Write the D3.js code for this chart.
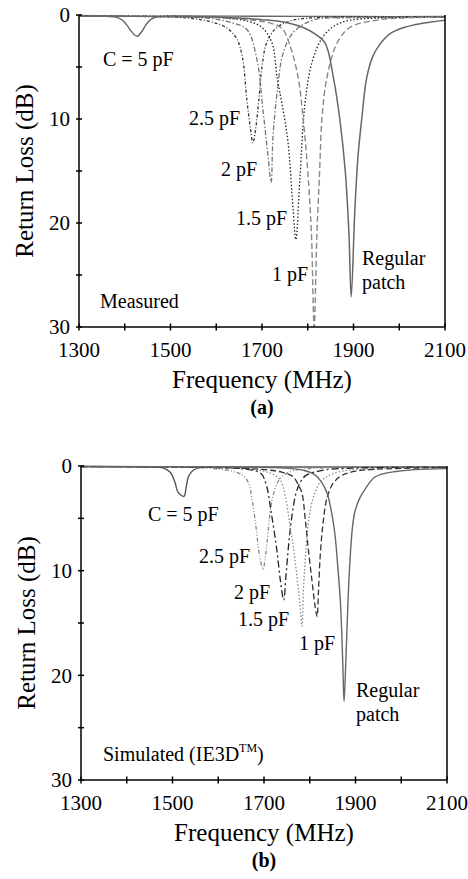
<!DOCTYPE html>
<html><head><meta charset="utf-8">
<script src="https://cdn.jsdelivr.net/npm/d3@7"></script>
<style>
html,body{margin:0;padding:0;background:#fff;}
svg{display:block;}
text{font-family:"Liberation Serif","Times New Roman",Tinos,"DejaVu Serif",serif;}
</style></head>
<body>
<svg id="chart" width="468" height="879"></svg>
<script>
// ---------- data ----------
const freqTickLabels = [1300, 1500, 1700, 1900, 2100];
const freqMinorTicks = [1300,1400,1500,1600,1700,1800,1900,2000,2100];
const rlTickLabels = [0, 10, 20, 30];
const rlMinorTicks = [0,5,10,15,20,25,30];

// Measured (a): [MHz, dB]
const meas5pF = [[1300,0.05],[1350,0.1],[1380,0.2],[1395,0.5],[1405,1.0],[1415,1.6],[1427,2.05],[1437,1.6],[1447,0.9],[1458,0.4],[1475,0.15],[1500,0.1],[1700,0.12],[1900,0.15],[2100,0.15]];
const meas2p5pF = [[1300,0.1],[1500,0.2],[1560,0.4],[1600,0.8],[1625,1.3],[1645,2.3],[1657,4],[1667,8.2],[1675,11],[1680,12.3],[1686,11],[1693,8.2],[1700,5],[1710,2.7],[1730,1.3],[1760,0.6],[1800,0.3],[2100,0.2]];
const meas2pF = [[1300,0.1],[1500,0.15],[1580,0.3],[1630,0.7],[1667,1.4],[1689,4.3],[1702,9.1],[1713,13.5],[1720,16.1],[1724,11.7],[1733,7.5],[1746,3.7],[1768,1.7],[1811,0.5],[1900,0.25],[2100,0.2]];
const meas1p5pF = [[1300,0.1],[1550,0.15],[1620,0.3],[1670,0.6],[1700,1.2],[1722,2.7],[1733,6],[1746,9.1],[1757,12.3],[1768,18.7],[1774,21.6],[1783,15.6],[1794,8.5],[1809,4.6],[1833,2.1],[1860,1.0],[1892,0.5],[1950,0.3],[2100,0.2]];
const meas1pF = [[1300,0.1],[1500,0.15],[1600,0.25],[1680,0.5],[1720,0.8],[1744,1.3],[1761,2.9],[1779,6],[1790,10],[1800,15],[1808,21],[1814,30],[1820,21],[1826,15],[1831,10],[1842,6],[1864,2.7],[1892,1.2],[1950,0.5],[2000,0.3],[2100,0.2]];
const measRegular = [[1300,0.1],[1500,0.15],[1600,0.2],[1650,0.3],[1700,0.45],[1750,0.7],[1790,1.2],[1815,1.8],[1838,2.7],[1856,6],[1870,10],[1882,15],[1890,21],[1895,27.1],[1903,18.7],[1910,13.5],[1918,10],[1929,6],[1942,4],[1958,2.8],[1980,1.8],[2010,1.2],[2050,0.8],[2100,0.5]];

// Simulated (b): [MHz, dB]
const sim5pF = [[1300,0.05],[1450,0.1],[1480,0.2],[1495,0.6],[1505,1.5],[1512,2.5],[1525,2.9],[1530,2.0],[1535,1.0],[1545,0.4],[1560,0.15],[1600,0.1],[1800,0.1],[2100,0.1]];
const sim2p5pF = [[1300,0.05],[1550,0.15],[1620,0.4],[1650,0.8],[1665,1.5],[1675,3.5],[1683,6],[1690,8.5],[1698,9.9],[1702,9],[1707,7.2],[1714,4.2],[1722,2.5],[1735,1.2],[1760,0.5],[1800,0.25],[2100,0.1]];
const sim2pF = [[1300,0.05],[1600,0.15],[1660,0.3],[1693,0.7],[1705,1.8],[1716,4.5],[1728,8],[1736,11],[1743,12.8],[1748,10.5],[1755,7],[1762,4.5],[1770,2.6],[1780,1.5],[1792,0.9],[1830,0.4],[1900,0.2],[2100,0.1]];
const sim1p5pF = [[1300,0.05],[1600,0.15],[1680,0.35],[1715,0.7],[1735,1.3],[1747,3],[1757,5.8],[1765,8],[1772,10.6],[1778,13],[1783,15.3],[1786,12],[1790,9],[1796,5.8],[1803,3.8],[1811,2.6],[1822,1.6],[1838,1.0],[1870,0.5],[1950,0.25],[2100,0.1]];
const sim1pF = [[1300,0.05],[1600,0.15],[1700,0.35],[1740,0.6],[1763,1.0],[1775,1.8],[1783,2.6],[1790,5],[1797,8],[1805,11],[1812,13.5],[1816,14.4],[1819,12],[1823,8.5],[1829,5.5],[1838,3],[1852,1.6],[1870,0.9],[1900,0.5],[1950,0.3],[2100,0.15]];
const simRegular = [[1300,0.05],[1650,0.1],[1720,0.15],[1760,0.25],[1790,0.45],[1810,0.8],[1825,1.5],[1838,2.6],[1848,4.5],[1855,6.5],[1862,10],[1867,13],[1872,18.5],[1875,22.5],[1879,18.5],[1884,12.5],[1888,9],[1893,6],[1899,4.3],[1910,3],[1921,2.2],[1941,1.1],[1960,0.75],[1984,0.55],[2030,0.35],[2100,0.25]];

// ---------- drawing ----------
const svg = d3.select("#chart");
const FONT = '"Liberation Serif","Times New Roman",Tinos,"DejaVu Serif",serif';

function panel(cfg) {
  const x = d3.scaleLinear().domain([1300, 2100]).range([cfg.x0, cfg.x1]);
  const y = d3.scaleLinear().domain([0, 30]).range([cfg.y0, cfg.y1]);
  const g = svg.append("g").attr("font-family", FONT);
  const clipId = "clip" + cfg.id;
  svg.append("defs").append("clipPath").attr("id", clipId)
    .append("rect").attr("x", cfg.x0).attr("y", cfg.y0 - 3)
    .attr("width", cfg.x1 - cfg.x0).attr("height", cfg.y1 - cfg.y0 + 3);

  const line = d3.line().x(d => x(d[0])).y(d => y(d[1])).curve(d3.curveCatmullRom.alpha(0.5));
  const cg = g.append("g").attr("clip-path", `url(#${clipId})`);
  cfg.series.forEach(s => {
    cg.append("path").attr("d", line(s.data)).attr("fill", "none")
      .attr("stroke", s.color).attr("stroke-width", s.width || 1.3)
      .attr("stroke-dasharray", s.dash || null);
  });

  // axes
  const ax = g.append("g").attr("stroke", "#000").attr("stroke-width", 1.5);
  ax.append("line").attr("x1", cfg.x0).attr("x2", cfg.x0).attr("y1", cfg.y0).attr("y2", cfg.y1);
  ax.append("line").attr("x1", cfg.x1).attr("x2", cfg.x1).attr("y1", cfg.y0).attr("y2", cfg.y1);
  ax.append("line").attr("x1", cfg.x0).attr("x2", cfg.x1).attr("y1", cfg.y1).attr("y2", cfg.y1);
  freqMinorTicks.forEach(f => {
    ax.append("line").attr("x1", x(f)).attr("x2", x(f)).attr("y1", cfg.y1 - 3.5).attr("y2", cfg.y1 + 3.5);
  });
  rlMinorTicks.forEach(v => {
    ax.append("line").attr("x1", cfg.x0 - 3).attr("x2", cfg.x0 + 3).attr("y1", y(v)).attr("y2", y(v));
  });

  // tick labels
  freqTickLabels.forEach(f => {
    g.append("text").attr("x", x(f)).attr("y", cfg.y1 + 30).attr("text-anchor", "middle")
      .attr("font-size", 21).text(f);
  });
  rlTickLabels.forEach(v => {
    g.append("text").attr("x", cfg.x0 - 9).attr("y", y(v)).attr("dy", "0.35em")
      .attr("text-anchor", "end").attr("font-size", 21).text(v);
  });

  // axis titles
  g.append("text").attr("x", (cfg.x0 + cfg.x1) / 2).attr("y", cfg.y1 + 61)
    .attr("text-anchor", "middle").attr("font-size", 25).text("Frequency (MHz)");
  g.append("text").attr("transform", `translate(${cfg.x0 - 46},${(cfg.y0 + cfg.y1) / 2}) rotate(-90)`)
    .attr("text-anchor", "middle").attr("font-size", 25).text("Return Loss (dB)");
  g.append("text").attr("x", (cfg.x0 + cfg.x1) / 2).attr("y", cfg.y1 + 87)
    .attr("text-anchor", "middle").attr("font-size", 20).attr("font-weight", "bold").text(cfg.tag);

  // annotations
  cfg.labels.forEach(l => {
    const t = g.append("text").attr("x", l.x).attr("y", l.y).attr("font-size", 20);
    if (l.sup) {
      t.append("tspan").text(l.text);
      t.append("tspan").attr("font-size", 12).attr("dy", -9).text(l.sup);
      t.append("tspan").attr("dy", 9).text(l.after);
    } else t.text(l.text);
  });
}

panel({
  id: "a", x0: 79, x1: 445, y0: 15, y1: 327, tag: "(a)",
  series: [
    {data: meas5pF, color: "#666", width: 1.4},
    {data: meas2p5pF, color: "#333", dash: "3,2,1,2"},
    {data: meas2pF, color: "#777", dash: "5,2,1.5,2"},
    {data: meas1p5pF, color: "#222", dash: "1.5,2"},
    {data: meas1pF, color: "#888", dash: "6,3", width: 1.4},
    {data: measRegular, color: "#666", width: 1.5}
  ],
  labels: [
    {text: "C = 5 pF", x: 103, y: 66},
    {text: "2.5 pF", x: 189, y: 125},
    {text: "2 pF", x: 221, y: 176},
    {text: "1.5 pF", x: 236, y: 225},
    {text: "1 pF", x: 272, y: 281},
    {text: "Regular", x: 362, y: 265},
    {text: "patch", x: 362, y: 289},
    {text: "Measured", x: 100, y: 308}
  ]
});

panel({
  id: "b", x0: 81, x1: 447, y0: 466, y1: 780, tag: "(b)",
  series: [
    {data: sim5pF, color: "#555", width: 1.4},
    {data: sim2p5pF, color: "#888", dash: "4,2,1,2,1,2"},
    {data: sim2pF, color: "#222", dash: "7,3,2,3"},
    {data: sim1p5pF, color: "#888", dash: "1.5,2"},
    {data: sim1pF, color: "#333", dash: "6,3"},
    {data: simRegular, color: "#666", width: 1.4}
  ],
  labels: [
    {text: "C = 5 pF", x: 148, y: 521},
    {text: "2.5 pF", x: 199, y: 563},
    {text: "2 pF", x: 234, y: 599},
    {text: "1.5 pF", x: 238, y: 626},
    {text: "1 pF", x: 299, y: 650},
    {text: "Regular", x: 356, y: 697},
    {text: "patch", x: 356, y: 721},
    {text: "Simulated (IE3D", sup: "TM", after: ")", x: 103, y: 761}
  ]
});
</script>
</body></html>
